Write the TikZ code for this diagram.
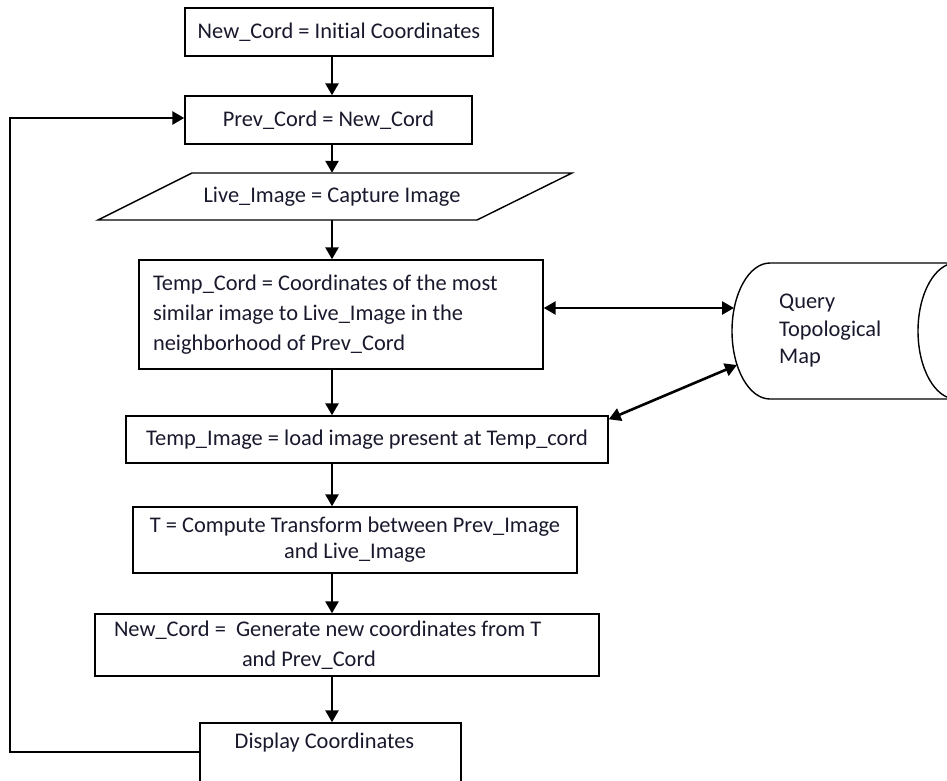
\documentclass[tikz,border=0pt]{standalone}
\usepackage{fontspec}
\setmainfont{Carlito}[Ligatures=NoCommon]
\usetikzlibrary{arrows.meta}
\definecolor{txtc}{RGB}{25,25,45}
\begin{document}
\begin{tikzpicture}[x=1pt,y=-1pt,
  box/.style={draw=black, line width=1.4pt, fill=white, inner sep=0pt, font=\fontsize{22.4}{30}\selectfont, text=txtc},
  txt/.style={inner sep=0pt, font=\fontsize{22.4}{30}\selectfont, text=txtc},
  arr/.style={line width=2.6pt, -{Triangle[length=12pt,width=13pt]}},
  darr/.style={line width=2.6pt, {Triangle[length=12pt,width=13pt]}-{Triangle[length=12pt,width=13pt]}},
  shp/.style={line width=1.4pt, draw=black}]
\useasboundingbox (0,0) rectangle (947,780);
\clip (0,0) rectangle (947,780);
\fill[white] (0,0) rectangle (947,780);
\coordinate (ax) at (332,0);
% boxes
\node[box, minimum width=308pt, minimum height=48pt] (b1) at (339,32) {New\_Cord = Initial Coordinates};
\node[box, minimum width=287pt, minimum height=48pt] (b2) at (328.5,120) {Prev\_Cord = New\_Cord};
\draw[shp] (192,173) -- (572,173) -- (477,220) -- (98,220) -- cycle;
\node[txt, minimum width=370pt, minimum height=47pt] (live) at (332,196.5) {Live\_Image = Capture Image};
\node[box, minimum width=404pt, minimum height=109pt, text width=376pt, align=flush left] (b4) at (341,314.5) {Temp\_Cord = Coordinates of the most\\similar image to Live\_Image in the\\neighborhood of Prev\_Cord};
\node[box, minimum width=482pt, minimum height=47pt] (b5) at (367,439.5) {Temp\_Image = load image present at Temp\_cord};
\node[box, minimum width=444pt, minimum height=66pt, align=center, font=\fontsize{22.4}{26}\selectfont] (b6) at (355,540) {T = Compute Transform between Prev\_Image\\and Live\_Image};
\node[box, minimum width=504pt, minimum height=62pt, text width=466pt, align=flush left] (b7) at (347,645) {New\_Cord = \ Generate new coordinates from T\\\hspace*{128pt}and Prev\_Cord};
\node[box, minimum width=261pt, minimum height=80pt] (b8) at (330.5,763) {};
\node[txt] (b8t) at (324.5,743) {Display Coordinates};
% database cylinder
\draw[shp, fill=white] (960,263) -- (770,263) arc[start angle=90, end angle=270, x radius=38pt, y radius=68pt] -- (960,399);
\draw[shp] (956,331) ellipse[x radius=38pt, y radius=68pt];
\node[txt, align=flush left, anchor=west, font=\fontsize{22.4}{27.5}\selectfont] (q) at (779,331) {Query\\Topological\\Map};
% main flow
\draw[arr] (b1.south -| ax) -- (b2.north -| ax);
\draw[arr] (b2.south -| ax) -- (live.north -| ax);
\draw[arr] (live.south -| ax) -- (b4.north -| ax);
\draw[arr] (b4.south -| ax) -- (b5.north -| ax);
\draw[arr] (b5.south -| ax) -- (b6.north -| ax);
\draw[arr] (b6.south -| ax) -- (b7.north -| ax);
\draw[arr] (b7.south -| ax) -- (b8.north -| ax);
% loop back
\coordinate (lb) at (10,752);
\coordinate (lt) at (10,118);
\draw[arr] (b8.west |- lb) -- (lb) -- (lt) -- (b2.west |- lt);
% database links
\coordinate (dA) at (734,308);
\coordinate (dB) at (737,365);
\draw[darr] (b4.east |- dA) -- (dA);
\draw[darr] ([yshift=-4pt]b5.north east) -- (dB);
\end{tikzpicture}
\end{document}
